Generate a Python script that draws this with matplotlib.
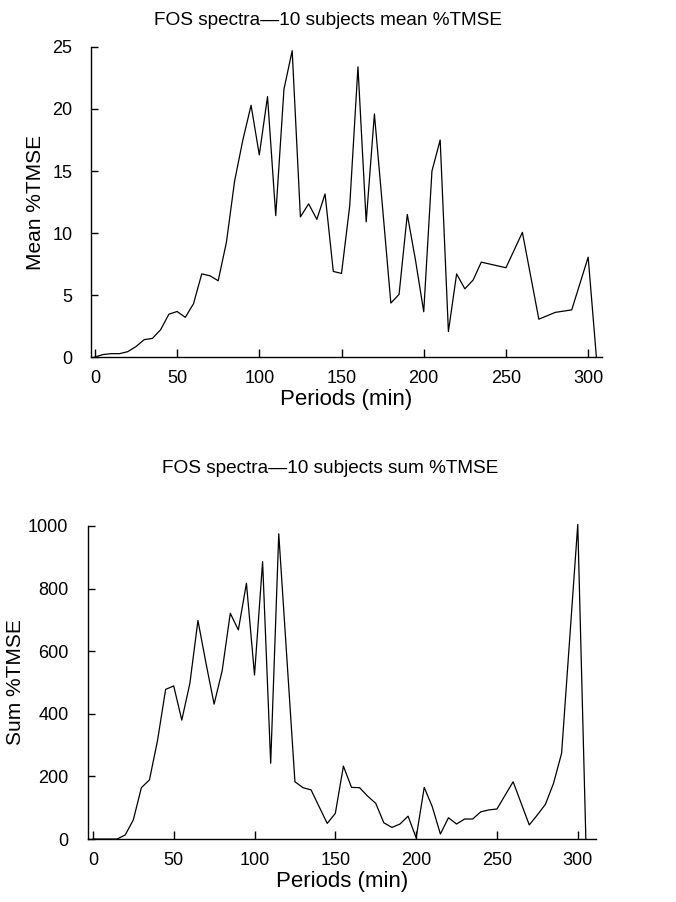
import matplotlib
matplotlib.use("Agg")
import matplotlib.pyplot as plt

plt.rcParams['font.family'] = ['Liberation Sans', 'DejaVu Sans']

# Top panel: mean %TMSE
mean_periods = [0, 5, 10, 15, 20, 25, 30, 35, 40, 45, 50, 55, 60, 65, 70, 75, 80, 85, 90, 95,
                100, 105, 110, 115, 120, 125, 130, 135, 140, 145, 150, 155, 160, 165, 170, 175,
                180, 185, 190, 195, 200, 205, 210, 215, 220, 225, 230, 235, 250, 260, 270, 280,
                290, 300, 305]
mean_tmse = [0.0, 0.2, 0.27, 0.27, 0.43, 0.84, 1.4, 1.5, 2.2, 3.45, 3.67, 3.2, 4.3, 6.7, 6.55,
             6.15, 9.25, 14.2, 17.5, 20.3, 16.3, 21.0, 11.4, 21.6, 24.7, 11.3, 12.35, 11.1, 13.15,
             6.9, 6.74, 12.2, 23.4, 10.9, 19.6, 12.0, 4.35, 5.05, 11.5, 7.8, 3.65, 15.0, 17.5,
             2.05, 6.7, 5.5, 6.2, 7.65, 7.2, 10.05, 3.05, 3.6, 3.8, 8.05, 0.0]

# Bottom panel: sum %TMSE
sum_periods = [0, 15, 20, 25, 30, 35, 40, 45, 50, 55, 60, 65, 70, 75, 80, 85, 90, 95, 100, 105,
               110, 115, 125, 130, 135, 140, 145, 150, 155, 160, 165, 170, 175, 180, 185, 190,
               195, 200, 205, 210, 215, 220, 225, 230, 235, 240, 245, 250, 260, 270, 275, 280,
               285, 290, 300, 305]
sum_tmse = [0, 0, 13, 61, 164, 189, 315, 478, 489, 380, 497, 698, 561, 431, 538, 721, 668, 817,
            524, 886, 242, 975, 183, 164, 157, 103, 50, 82, 233, 165, 164, 137, 114, 52, 37, 48,
            73, 4, 165, 103, 16, 68, 48, 64, 64, 87, 93, 96, 183, 45, 77, 111, 178, 274, 1005, 0]

x_ticks = [0, 50, 100, 150, 200, 250, 300]
mean_yticks = [0, 5, 10, 15, 20, 25]
sum_yticks = [0, 200, 400, 600, 800, 1000]

fig = plt.figure(figsize=(6.76, 9.02), dpi=100)

def style(ax):
    for s in ['top', 'right']:
        ax.spines[s].set_visible(False)
    for s in ['left', 'bottom']:
        ax.spines[s].set_linewidth(1.0)
    ax.tick_params(axis='x', direction='in', length=6, width=1, labelsize=13, pad=9)
    ax.tick_params(axis='y', direction='in', length=5, width=1, labelsize=13)

ax1 = fig.add_axes([0.134, 0.6042, 0.7565, 0.3437])
ax1.plot(mean_periods, mean_tmse, color='black', lw=0.9, clip_on=False)
ax1.set_xlim(-2.6, 308.4)
ax1.set_ylim(0, 25)
ax1.set_xticks(x_ticks)
ax1.set_yticks(mean_yticks)
style(ax1)
ax1.tick_params(axis='y', pad=13)
ax1.set_xlabel('Periods (min)', fontsize=16, labelpad=2)
ax1.set_ylabel('Mean %TMSE', fontsize=15, labelpad=5)
fig.text(0.485, 0.977, 'FOS spectra\u201410 subjects mean %TMSE', ha='center', va='center', fontsize=13.7)

ax2 = fig.add_axes([0.130, 0.0698, 0.7517, 0.3471])
ax2.plot(sum_periods, sum_tmse, color='black', lw=0.9, clip_on=False)
ax2.set_xlim(-3.1, 311.3)
ax2.set_ylim(0, 1000)
ax2.set_xticks(x_ticks)
ax2.set_yticks(sum_yticks)
style(ax2)
ax2.tick_params(axis='y', pad=14)
ax2.set_xlabel('Periods (min)', fontsize=16, labelpad=2)
ax2.set_ylabel('Sum %TMSE', fontsize=15, labelpad=2)
fig.text(0.488, 0.481, 'FOS spectra\u201410 subjects sum %TMSE', ha='center', va='center', fontsize=13.7)

fig.savefig('out.png', dpi=100)
